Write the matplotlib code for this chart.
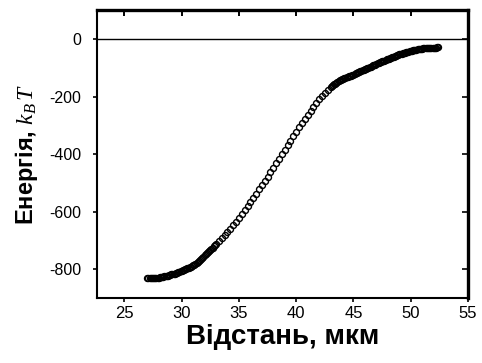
import matplotlib
matplotlib.use("Agg")
import matplotlib.pyplot as plt

plt.rcParams['font.family'] = ['Liberation Sans', 'DejaVu Sans']
plt.rcParams['mathtext.fontset'] = 'custom'
plt.rcParams['mathtext.it'] = 'Liberation Serif:italic'
plt.rcParams['mathtext.rm'] = 'Liberation Serif'
plt.rcParams['axes.unicode_minus'] = False

distance_um = [
    27.0, 27.1, 27.2, 27.3, 27.4, 27.5, 27.6, 27.7, 27.8, 27.9,
    28.0, 28.1, 28.2, 28.3, 28.4, 28.5, 28.6, 28.7, 28.8, 28.9,
    29.0, 29.1, 29.2, 29.3, 29.4, 29.5, 29.6, 29.7, 29.8, 29.9,
    30.0, 30.1, 30.2, 30.3, 30.4, 30.5, 30.6, 30.7, 30.8, 30.9,
    31.0, 31.1, 31.2, 31.3, 31.4, 31.5, 31.6, 31.7, 31.8, 31.9,
    32.0, 32.1, 32.2, 32.3, 32.4, 32.5, 32.6, 32.7, 32.8, 32.9, 33.0,
    33.25, 33.5, 33.75, 34.0, 34.25, 34.5, 34.75, 35.0, 35.25, 35.5,
    35.75, 36.0, 36.25, 36.5, 36.75, 37.0, 37.25, 37.5, 37.75, 38.0,
    38.25, 38.5, 38.75, 39.0, 39.25, 39.5, 39.75, 40.0, 40.25, 40.5,
    40.75, 41.0, 41.25, 41.5, 41.75, 42.0, 42.25, 42.5, 42.75,
    43.0, 43.1, 43.2, 43.3, 43.4, 43.5, 43.6, 43.7, 43.8, 43.9,
    44.0, 44.1, 44.2, 44.3, 44.4, 44.5, 44.6, 44.7, 44.8, 44.9,
    45.0, 45.1, 45.2, 45.3, 45.4, 45.5, 45.6, 45.7, 45.8, 45.9,
    46.0, 46.1, 46.2, 46.3, 46.4, 46.5, 46.6, 46.7, 46.8, 46.9,
    47.0, 47.1, 47.2, 47.3, 47.4, 47.5, 47.6, 47.7, 47.8, 47.9,
    48.0, 48.1, 48.2, 48.3, 48.4, 48.5, 48.6, 48.7, 48.8, 48.9,
    49.0, 49.1, 49.2, 49.3, 49.4, 49.5, 49.6, 49.7, 49.8, 49.9,
    50.0, 50.1, 50.2, 50.3, 50.4, 50.5, 50.6, 50.7, 50.8, 50.9,
    51.0, 51.1, 51.2, 51.3, 51.4, 51.5, 51.6, 51.7, 51.8, 51.9,
    52.0, 52.1, 52.2, 52.3, 52.4,
]
energy_kT = [
    -829, -830, -830, -831, -831, -831, -831, -830, -830, -829,
    -829, -828, -828, -827, -826, -825, -824, -823, -822, -821,
    -820, -818, -817, -816, -815, -813, -812, -810, -809, -807,
    -806, -804, -802, -800, -799, -797, -795, -793, -791, -789,
    -786, -784, -781, -778, -775, -772, -768, -764, -760, -756,
    -752, -748, -744, -741, -737, -733, -729, -725, -721, -717, -713,
    -703, -692, -682, -672, -660, -648, -635, -622, -608, -594,
    -580, -565, -551, -537, -522, -507, -492, -478, -463, -447,
    -432, -417, -401, -385, -370, -355, -338, -322, -307, -293,
    -278, -264, -250, -236, -223, -210, -198, -187, -177,
    -168, -164, -161, -158, -155, -152, -149, -146, -144, -142,
    -140, -138, -136, -134, -133, -131, -130, -128, -127, -125,
    -124, -122, -120, -118, -116, -114, -113, -111, -109, -108,
    -106, -104, -102, -100, -98, -96, -94, -92, -91, -89,
    -87, -85, -83, -81, -80, -78, -76, -75, -73, -71,
    -70, -68, -67, -65, -63, -62, -60, -59, -57, -56,
    -54, -53, -52, -50, -49, -48, -47, -45, -44, -43,
    -42, -41, -40, -39, -38, -37, -36, -36, -35, -34,
    -34, -33, -33, -32, -32, -32, -31, -31, -31, -30,
    -30, -30, -30, -29, -29,
]
x_ticks = [25, 30, 35, 40, 45, 50, 55]
y_ticks = [0, -200, -400, -600, -800]

fig = plt.figure(figsize=(4.82, 3.63), dpi=100)
ax = fig.add_axes([0.201, 0.179, 0.770, 0.793])

ax.axhline(0, color='black', linewidth=1.0, zorder=1)
ax.plot(distance_um, energy_kT, linestyle='none', marker='o',
        markersize=4.3, markerfacecolor='none', markeredgecolor='black',
        markeredgewidth=1.0, zorder=3)

ax.set_xlim(22.6, 55)
ax.set_ylim(-900, 100)
ax.set_xticks(x_ticks)
ax.set_yticks(y_ticks)
ax.tick_params(axis='both', direction='out', length=3, width=1.2)
ax.tick_params(axis='x', labelsize=12, pad=3)
ax.tick_params(axis='y', labelsize=11.5, pad=8)

for s in ax.spines.values():
    s.set_linewidth(1.5)
ax.spines['top'].set_linewidth(2.4)
ax.spines['right'].set_linewidth(2.4)

secx = ax.secondary_xaxis('top')
secx.set_xticks(x_ticks)
secx.tick_params(direction='in', length=4, width=1.4, labeltop=False)
secx.spines['top'].set_visible(False)
secy = ax.secondary_yaxis('right')
secy.set_yticks(y_ticks)
secy.tick_params(direction='in', length=4, width=1.2, labelright=False)
secy.spines['right'].set_visible(False)

ax.set_xlabel('Відстань, мкм', fontsize=20, fontweight='bold', labelpad=2)
ax.set_ylabel('Енергія, $k_B\\,T$', fontsize=17, fontweight='bold', labelpad=7)

fig.savefig('out.png', dpi=100)
